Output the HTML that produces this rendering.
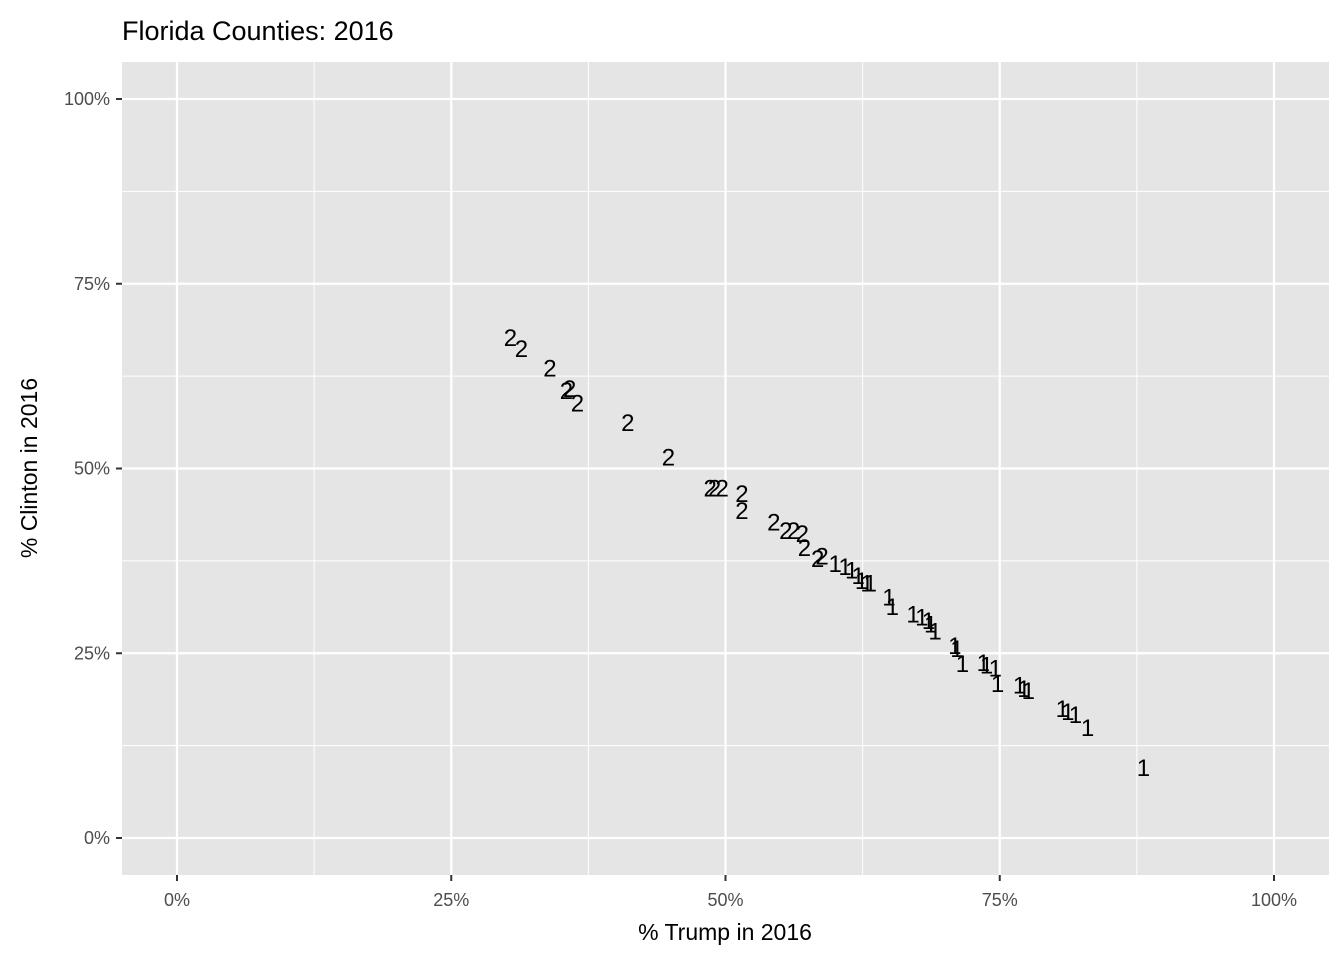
<!DOCTYPE html>
<html><head><meta charset="utf-8"><style>
body{margin:0;background:#fff;font-family:"Liberation Sans",sans-serif}
svg text{font-family:"Liberation Sans",sans-serif}
</style></head><body>
<svg id="chart" width="1344" height="960">
<text x="122" y="40" font-size="27" fill="#000">Florida Counties: 2016</text>
<rect x="122" y="62" width="1207" height="813" fill="#e5e5e5"/>
<g id="grid"></g><g id="marks"></g><g id="axes"></g>
<text x="725" y="940" font-size="23" text-anchor="middle">% Trump in 2016</text>
<text transform="translate(37,468) rotate(-90)" font-size="23" text-anchor="middle">% Clinton in 2016</text>
</svg>
<script>
const ticks=[0,25,50,75,100];
const tickLabels=["0%","25%","50%","75%","100%"];
const party=[2,2,2,2,2,2,2,2,2,2,2,2,2,2,2,2,2,2,2,2,1,1,1,1,1,1,1,1,1,1,1,1,1,1,1,1,1,1,1,1,1,1,1,1,1,1,1,1,1];
const trump=[30.4,31.4,34.0,35.5,35.8,36.5,41.1,44.8,48.6,49.0,49.7,51.5,51.5,54.4,55.5,56.2,57.0,57.2,58.4,58.8,60.0,60.9,61.5,62.1,62.4,62.9,63.2,64.9,65.2,67.1,67.9,68.5,68.7,69.1,70.9,71.1,71.6,73.5,73.8,74.6,74.8,76.8,77.2,77.6,80.7,81.2,81.9,83.0,88.1];
const clinton=[67.8,66.3,63.7,60.6,60.9,58.9,56.3,51.6,47.4,47.4,47.4,46.7,44.4,42.8,41.7,41.7,41.3,39.4,37.9,38.2,37.2,36.8,36.3,35.6,34.9,34.6,34.6,32.7,31.4,30.4,30.0,29.5,29.0,28.1,26.1,25.7,23.7,23.8,23.5,23.1,21.0,20.8,20.3,20.0,17.6,17.2,16.8,15.0,9.6];
const X=v=>177+v*10.97, Y=v=>838-v*7.39;
const NS="http://www.w3.org/2000/svg";
function mk(tag,attrs,parent){const e=document.createElementNS(NS,tag);for(const k in attrs)e.setAttribute(k,attrs[k]);document.getElementById(parent).appendChild(e);return e;}
for(let i=0;i<ticks.length;i++){
  const t=ticks[i];
  if(i<ticks.length-1){const m=t+12.5;
    let l=mk('line',{x1:X(m),x2:X(m),y1:62,y2:875,stroke:'#fff','stroke-width':1},'grid');
    
    
    l=mk('line',{y1:Y(m),y2:Y(m),x1:122,x2:1329,stroke:'#fff','stroke-width':1},'grid');
    
    }
  let g=mk('line',{x1:X(t),x2:X(t),y1:62,y2:875,stroke:'#fff','stroke-width':2.2},'grid');
  
  
  g=mk('line',{y1:Y(t),y2:Y(t),x1:122,x2:1329,stroke:'#fff','stroke-width':2.2},'grid');
  
  
  let tk=mk('line',{x1:X(t),x2:X(t),y1:875,y2:881,stroke:'#333','stroke-width':2},'axes');
  
  
  tk=mk('line',{x1:116,x2:122,y1:Y(t),y2:Y(t),stroke:'#333','stroke-width':2},'axes');
  
  
  let tx=mk('text',{x:X(t),y:906,'font-size':18,fill:'#4d4d4d','text-anchor':'middle'},'axes');
  tx.textContent=tickLabels[i];
  
  
  tx=mk('text',{x:110,y:Y(t)+6,'font-size':18,fill:'#4d4d4d','text-anchor':'end'},'axes');
  tx.textContent=tickLabels[i];
  
  
}
for(let i=0;i<trump.length;i++){
  const p=mk('text',{x:X(trump[i]),y:Y(clinton[i])+9,'font-size':24,fill:'#000','text-anchor':'middle'},'marks');
  p.textContent=party[i];
  
  
}
</script>
</body></html>
